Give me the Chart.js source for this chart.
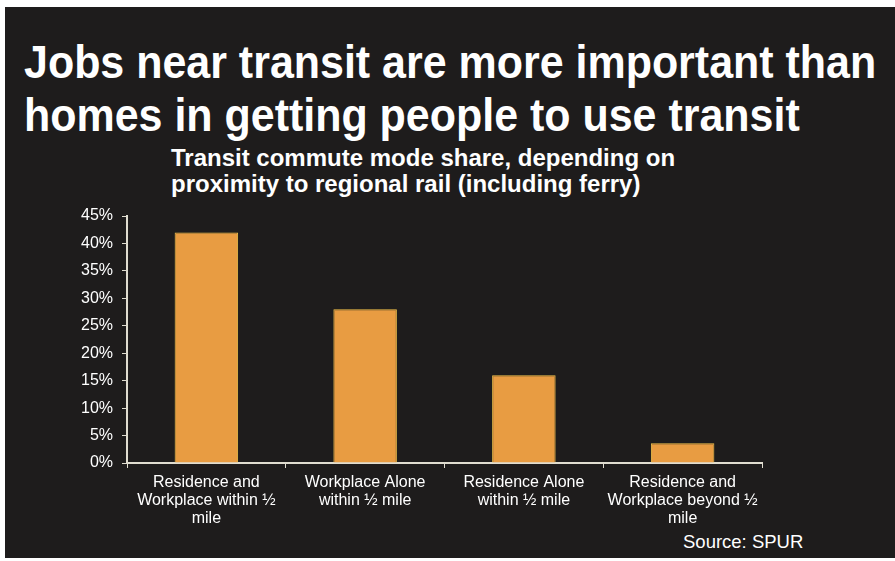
<!DOCTYPE html>
<html>
<head>
<meta charset="utf-8">
<script src="https://cdn.jsdelivr.net/npm/chart.js@4"></script>
<style>
  html, body { margin: 0; padding: 0; background: #ffffff; }
  #wrap { position: relative; width: 895px; height: 561px; overflow: hidden; }
  #panel { position: absolute; left: 5px; top: 7px; width: 890px; height: 551px; background: #1e1c1c; }
  .t { position: absolute; color: #ffffff; font-family: "Liberation Sans", Arial, sans-serif; font-weight: bold; white-space: nowrap; }
  #title { left: 24px; top: 35px; font-size: 47px; line-height: 53px; transform: scaleX(0.914); transform-origin: 0 0; }
  #sub { left: 171px; top: 145px; font-size: 24px; line-height: 26px; }
  #src { position: absolute; left: 683px; top: 531px; color: #fff; font-family: "Liberation Sans", Arial, sans-serif; font-size: 18.5px; }
  canvas { position: absolute; left: 0; top: 0; }
</style>
</head>
<body>
<div id="wrap">
  <div id="panel"></div>
  <div class="t" id="title">Jobs near transit are more important than<br>homes in getting people to use transit</div>
  <div class="t" id="sub">Transit commute mode share, depending on<br>proximity to regional rail (including ferry)</div>
  <div id="src">Source: SPUR</div>
  <canvas id="c" width="895" height="561"></canvas>
</div>
<script>
const categories = [
  ["Residence and", "Workplace within \u00bd", "mile"],
  ["Workplace Alone", "within \u00bd mile"],
  ["Residence Alone", "within \u00bd mile"],
  ["Residence and", "Workplace beyond \u00bd", "mile"]
];
const shareValues = [42, 28, 16, 3.6];
const yTicks = [0, 5, 10, 15, 20, 25, 30, 35, 40, 45];

new Chart(document.getElementById('c'), {
  type: 'bar',
  data: {
    labels: categories,
    datasets: [{
      data: shareValues,
      backgroundColor: '#e89c42',
      borderColor: '#f2c24a',
      borderWidth: 1,
      categoryPercentage: 1,
      barPercentage: 0.4
    }]
  },
  options: {
    responsive: false,
    animation: false,
    devicePixelRatio: 1,
    layout: { padding: { top: 216, left: 0, right: 133, bottom: 8 } },
    plugins: { legend: { display: false }, tooltip: { enabled: false }, title: { display: false } },
    scales: {
      x: {
        grid: { display: true, drawOnChartArea: false, drawTicks: true, tickLength: 5, color: '#e0ddd0', offset: true },
        border: { display: true, color: '#e0ddd0', width: 2 },
        ticks: { color: '#ffffff', font: { family: '"Liberation Sans", Arial, sans-serif', size: 16, lineHeight: 1.15 }, padding: 5, maxRotation: 0, autoSkip: false },
        afterFit: s => { s.height = 90; }
      },
      y: {
        min: 0, max: 45,
        afterBuildTicks: s => { s.ticks = yTicks.map(v => ({ value: v })); },
        grid: { display: true, drawOnChartArea: false, drawTicks: true, tickLength: 5, color: '#e0ddd0' },
        border: { display: true, color: '#e0ddd0', width: 2 },
        ticks: { color: '#ffffff', font: { family: '"Liberation Sans", Arial, sans-serif', size: 16 }, padding: 9, callback: v => v + '%' },
        afterFit: s => { s.width = 127; }
      }
    }
  }
});
</script>
</body>
</html>
